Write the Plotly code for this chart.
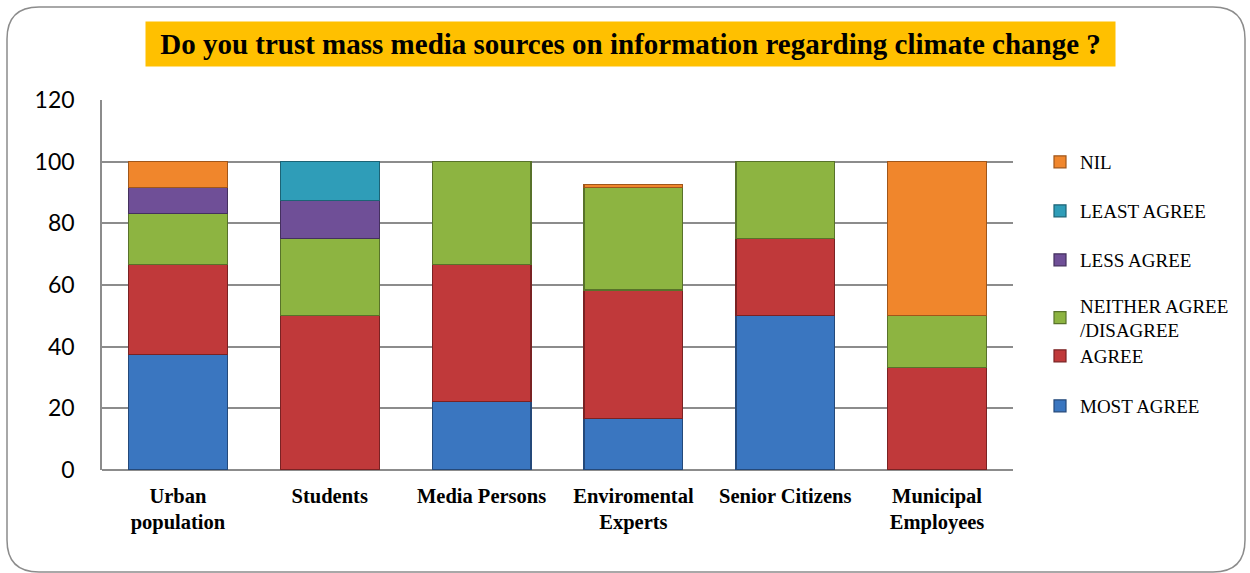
import plotly.graph_objects as go

# Survey groups and their response shares (%)
categories = ["Urban<br>population", "Students", "Media Persons",
              "Enviromental<br>Experts", "Senior Citizens", "Municipal<br>Employees"]
most_agree = [37.5, None, 22.2, 16.7, 50.0, None]
agree = [29.2, 50.0, 44.5, 41.7, 25.0, 33.3]
neither = [16.6, 25.0, 33.3, 33.3, 25.0, 16.7]
less_agree = [8.4, 12.5, None, None, None, None]
least_agree = [None, 12.5, None, None, None, None]
nil = [8.3, None, None, 1.0, None, 50.0]

SERIF = "Times New Roman, Liberation Serif, serif"

# name, values, fill, edge, legend row centre (px)
series = [
    ("MOST AGREE", most_agree, "#3a76c0", "#24497a", 406),
    ("AGREE", agree, "#c0393a", "#7a2223", 356),
    ("NEITHER AGREE<br>/DISAGREE", neither, "#8db441", "#58722a", 318),
    ("LESS AGREE", less_agree, "#6f4f97", "#44305e", 260),
    ("LEAST AGREE", least_agree, "#2f9db8", "#1c6375", 211),
    ("NIL", nil, "#f0862c", "#a0561a", 162),
]

W, H = 1250, 573
L, R, T, B = 102, 1013, 100, 470


def px_x(p):
    return (p - L) / (R - L)


def px_y(p):
    return (B - p) / (B - T)


fig = go.Figure()
legends = {}
for i, (name, vals, col, edge, ly) in enumerate(series):
    key = "legend" if i == 0 else f"legend{i + 1}"
    fig.add_trace(go.Bar(
        x=categories, y=vals, name=name,
        marker=dict(color=col, line=dict(color=edge, width=1.2)),
        legend=key,
    ))
    legends[key] = dict(
        x=px_x(1040), y=px_y(ly), xanchor="left", yanchor="middle",
        font=dict(family=SERIF, size=19, color="black"),
        itemwidth=30, bgcolor="rgba(0,0,0,0)",
    )

# rounded chart-area frame
x0, x1, y0, y1, r = 7, 1245, 7, 572, 32
path = (
    f"M {px_x(x0 + r)} {px_y(y0)} L {px_x(x1 - r)} {px_y(y0)} "
    f"Q {px_x(x1)} {px_y(y0)} {px_x(x1)} {px_y(y0 + r)} "
    f"L {px_x(x1)} {px_y(y1 - r)} "
    f"Q {px_x(x1)} {px_y(y1)} {px_x(x1 - r)} {px_y(y1)} "
    f"L {px_x(x0 + r)} {px_y(y1)} "
    f"Q {px_x(x0)} {px_y(y1)} {px_x(x0)} {px_y(y1 - r)} "
    f"L {px_x(x0)} {px_y(y0 + r)} "
    f"Q {px_x(x0)} {px_y(y0)} {px_x(x0 + r)} {px_y(y0)} Z"
)
fig.add_shape(type="path", path=path, xref="paper", yref="paper",
              line=dict(color="#8c8c8c", width=1.5), layer="below")

fig.add_annotation(
    text="<b>Do you trust mass media sources on information regarding climate change ?</b>",
    xref="paper", yref="paper", x=px_x(630.5), y=px_y(44), xanchor="center", yanchor="middle",
    showarrow=False, bgcolor="#ffc000", width=967, height=42,
    font=dict(family=SERIF, size=29, color="black"),
)

fig.update_layout(
    width=W, height=H,
    margin=dict(l=L, r=W - R, t=T, b=H - B, pad=0),
    barmode="stack", bargap=0.35,
    plot_bgcolor="white", paper_bgcolor="white",
    showlegend=True,
    xaxis=dict(
        tickfont=dict(family=SERIF, size=20.5, color="black", weight="bold"),
        showgrid=False, showline=False, ticks="", ticklabelstandoff=11,
    ),
    yaxis=dict(
        range=[0, 120], dtick=20, tickfont=dict(family="Lato", size=23, color="black"),
        showgrid=True, gridcolor="#8c8c8c", gridwidth=1.5,
        zeroline=True, zerolinecolor="#8c8c8c", zerolinewidth=1.5,
        showline=True, linecolor="#8c8c8c", linewidth=1.5,
        ticks="", ticklabelstandoff=21,
    ),
    **legends,
)

fig.write_html("out.html")
